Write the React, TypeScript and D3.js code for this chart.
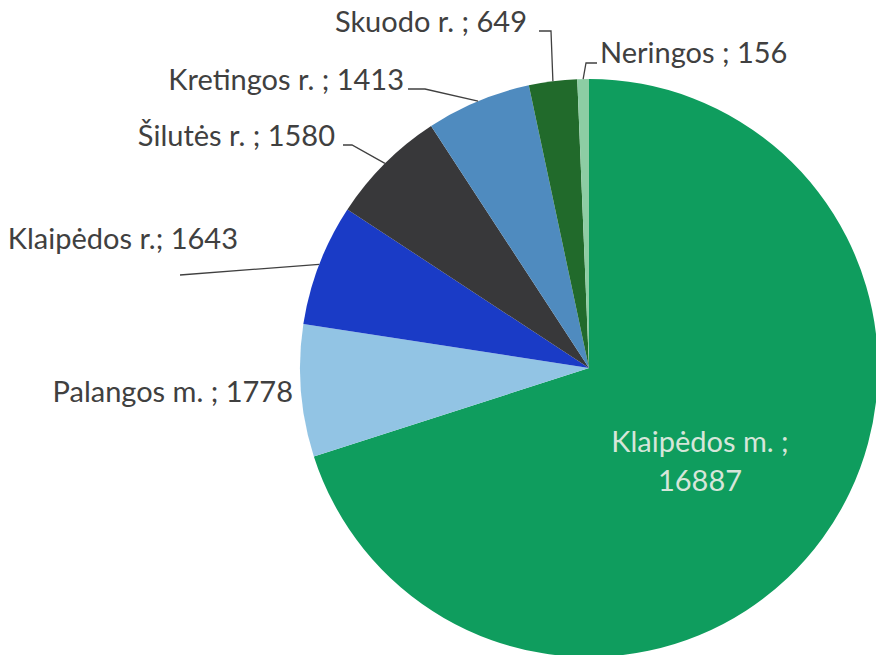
import React from "react";
import * as d3 from "d3";

const categories = ["Klaipėdos m.", "Palangos m.", "Klaipėdos r.", "Šilutės r.", "Kretingos r.", "Skuodo r.", "Neringos"];
const values = [16887, 1778, 1643, 1580, 1413, 649, 156];
const labelTexts = ["Klaipėdos m. ;", "Palangos m. ; 1778", "Klaipėdos r.; 1643", "Šilutės r. ; 1580", "Kretingos r. ; 1413", "Skuodo r. ; 649", "Neringos ; 156"];
const colors = ["#0F9D5E", "#92C4E4", "#1A3BC6", "#38383A", "#4F8BBF", "#216A2B", "#8DCDA4"];

// layout (label anchor, elbow, text anchor)
const labelLayout = [
  null,
  { x: 293, y: 402, anchor: "end", elbow: null, end: null },
  { x: 238, y: 249, anchor: "end", elbow: null, end: [180, 275] },
  { x: 335, y: 146, anchor: "end", elbow: [352, 145], end: [343, 145] },
  { x: 404, y: 90, anchor: "end", elbow: [425, 89], end: [408, 89] },
  { x: 527, y: 32, anchor: "end", elbow: [551, 31], end: [539, 31] },
  { x: 600, y: 63, anchor: "start", elbow: [586, 63], end: [597, 63] },
];

const W = 876, H = 655;
const cx = 589, cy = 368, R = 289;
const FS = 29;

export default function App() {
  const data = categories.map((c, i) => ({ c, v: values[i], i }));
  const pie = d3.pie<any>().sort(null).value((d) => d.v).startAngle(0).endAngle(2 * Math.PI);
  const arcs = pie(data);
  const arc = d3.arc<any>().innerRadius(0).outerRadius(R);
  const font = "Lato, 'Open Sans', sans-serif";
  return (
    <svg width={W} height={H} style={{ position: "absolute", left: 0, top: 0, background: "#fff" }}>
      <g transform={`translate(${cx},${cy})`}>
        {arcs.map((a, i) => (
          <path key={i} d={arc(a) || ""} fill={colors[i]} />
        ))}
      </g>
      {arcs.map((a, i) => {
        const L = labelLayout[i];
        if (!L || !L.end) return null;
        const mid = (a.startAngle + a.endAngle) / 2;
        const px = cx + R * Math.sin(mid);
        const py = cy - R * Math.cos(mid);
        const pts: number[][] = [[px, py]];
        if (L.elbow) pts.push(L.elbow);
        pts.push(L.end);
        return (
          <path key={"l" + i} d={d3.line()(pts as any) || ""} fill="none" stroke="#404040" strokeWidth={1.3} />
        );
      })}
      {arcs.map((a, i) => {
        const L = labelLayout[i];
        if (!L) return null;
        return (
          <text key={"t" + i} x={L.x} y={L.y} textAnchor={L.anchor as any} fontFamily={font} fontSize={FS} fill="#404040">
            {labelTexts[i]}
          </text>
        );
      })}
      <text x={700} y={452} textAnchor="middle" fontFamily={font} fontSize={FS} fill="#D6E6DA">
        {labelTexts[0]}
      </text>
      <text x={700} y={491} textAnchor="middle" fontFamily={font} fontSize={FS} fill="#D6E6DA">
        {String(values[0])}
      </text>
    </svg>
  );
}
